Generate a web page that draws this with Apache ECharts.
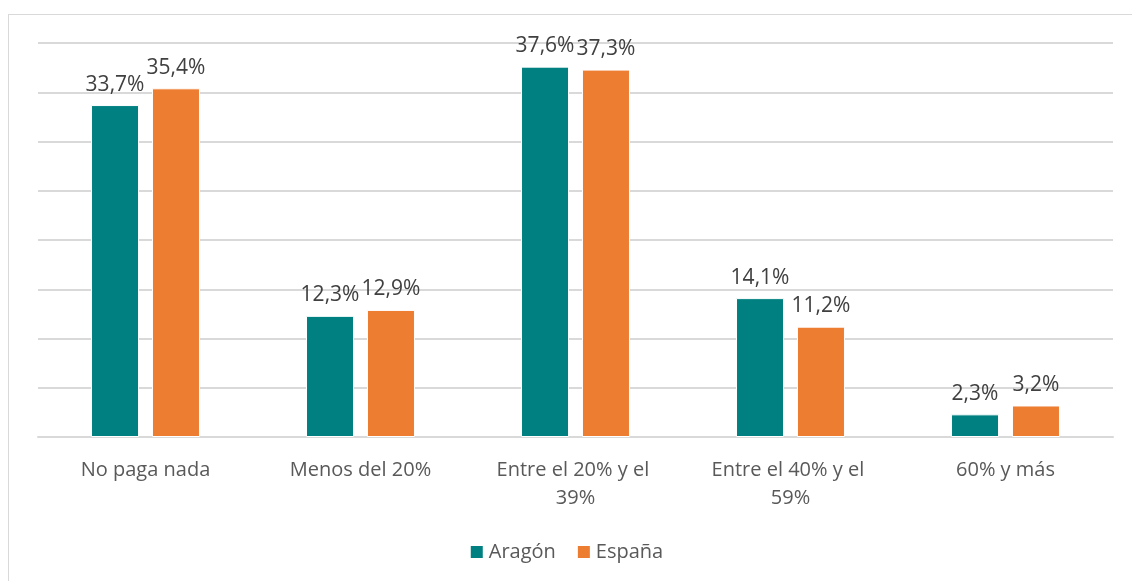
<!DOCTYPE html>
<html><head><meta charset="utf-8">
<script src="https://cdn.jsdelivr.net/npm/echarts@6/dist/echarts.min.js"></script>
<style>
html,body{margin:0;padding:0;background:#fff;overflow:hidden;}
#frame{position:absolute;left:8px;top:14px;width:1140px;height:600px;border:1px solid #d9d9d9;box-sizing:border-box;}
#chart{position:absolute;left:0;top:0;width:1132px;height:581px;}
</style></head>
<body>
<div id="frame"></div>
<div id="chart"></div>
<script>
const categories = ['No paga nada', 'Menos del 20%', 'Entre el 20% y el 39%', 'Entre el 40% y el 59%', '60% y más'];
const aragon = [33.7, 12.3, 37.6, 14.1, 2.3];
const espana = [35.4, 12.9, 37.3, 11.2, 3.2];
const seriesNames = ['Aragón', 'España'];

const FONT = 'Open Sans';
const chart = echarts.init(document.getElementById('chart'));
const lbl = {
  show: true, position: 'top', distance: 10,
  color: '#404040', fontSize: 21, fontFamily: FONT,
  formatter: p => p.value.toFixed(1).replace('.', ',') + '%'
};
chart.setOption({
  animation: false,
  grid: { left: 38, right: 19, top: 43, bottom: 144, containLabel: false },
  legend: {
    bottom: 14, left: 'center', itemWidth: 14, itemHeight: 14, itemGap: 20,
    icon: 'rect',
    textStyle: { color: '#595959', fontSize: 20, fontFamily: FONT },
    data: seriesNames
  },
  xAxis: {
    type: 'category', data: categories,
    axisLine: { lineStyle: { color: '#d9d9d9', width: 2 } },
    axisTick: { show: false },
    axisLabel: { color: '#595959', fontSize: 20, fontFamily: FONT, margin: 19,
      interval: 0, width: 180, overflow: 'break', lineHeight: 28 }
  },
  yAxis: {
    type: 'value', min: 0, max: 40, interval: 5,
    axisLabel: { show: false },
    axisLine: { show: false }, axisTick: { show: false },
    splitLine: { lineStyle: { color: '#d9d9d9', width: 2 } }
  },
  series: [
    { name: seriesNames[0], type: 'bar', data: aragon, barWidth: 48, barGap: '27%',
      itemStyle: { color: '#008080', borderColor: '#fff', borderWidth: 1 }, label: lbl },
    { name: seriesNames[1], type: 'bar', data: espana, barWidth: 48,
      itemStyle: { color: '#ED7D31', borderColor: '#fff', borderWidth: 1 }, label: lbl }
  ]
});
</script>
</body></html>
